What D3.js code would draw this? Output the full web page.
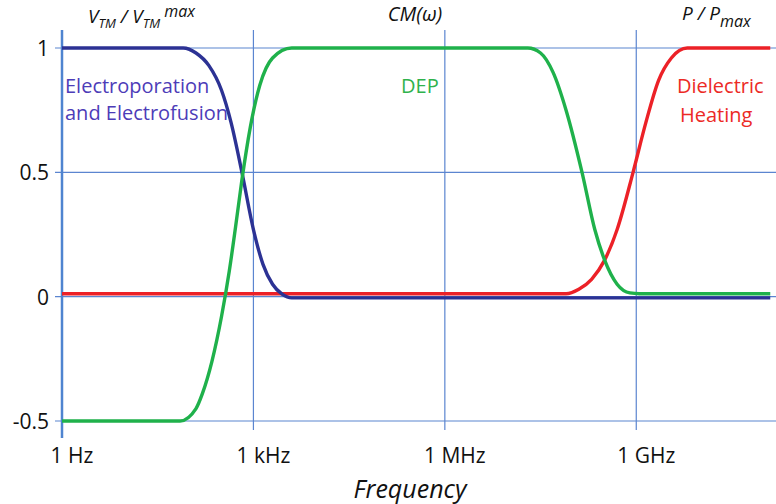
<!DOCTYPE html>
<html>
<head>
<meta charset="utf-8">
<script src="https://cdn.jsdelivr.net/npm/d3@7"></script>
<style>
  body { margin: 0; background: #fff; }
  text { font-family: "Open Sans", Lato, sans-serif; }
</style>
</head>
<body>
<div id="chart"></div>
<script>
"use strict";

// frequency in decades (log10 Hz)
var blueDec  = [0, 1.9, 2.1, 2.3, 2.5, 2.65, 2.82, 3.0, 3.15, 3.3, 3.45, 3.6, 11.1];
var blueVal  = [1, 1, 0.98, 0.93, 0.83, 0.7, 0.5, 0.27, 0.13, 0.05, 0.01, -0.005, -0.005];

var greenDec = [0, 1.85, 2.1, 2.2, 2.35, 2.5, 2.62, 2.72, 2.82, 2.95, 3.1, 3.3, 3.6, 7.3, 7.5, 7.7, 7.9, 8.15, 8.35, 8.5, 8.7, 8.9, 9.05, 11.1];
var greenVal = [-0.5, -0.5, -0.45, -0.39, -0.26, -0.08, 0.1, 0.28, 0.47, 0.68, 0.85, 0.96, 1, 1, 0.98, 0.9, 0.75, 0.5, 0.27, 0.15, 0.05, 0.015, 0.012, 0.012];

var redDec   = [0, 7.9, 8.1, 8.3, 8.5, 8.7, 8.95, 9.15, 9.35, 9.55, 9.8, 11.1];
var redVal   = [0.012, 0.012, 0.03, 0.07, 0.145, 0.27, 0.5, 0.7, 0.87, 0.96, 1, 1];

var yTicks = [1, 0.5, 0, -0.5];
var xTicks = [0, 3, 6, 9];
var xTickLabels = ["1 Hz", "1 kHz", "1 MHz", "1 GHz"];

var W = 776, H = 504;
var svg = d3.select("#chart").append("svg")
        .attr("width", W)
        .attr("height", H);

var x = d3.scaleLog().domain([1, Math.pow(10, 11.19)]).range([62, 776]);
var y = d3.scaleLinear().domain([-0.5, 1]).range([421, 48]);

var gridColor = "#5b85d0";

// horizontal grid lines
svg.selectAll(".hgrid").data(yTicks).enter().append("line")
        .attr("x1", 55).attr("x2", W)
        .attr("y1", function (d) { return y(d); })
        .attr("y2", function (d) { return y(d); })
        .attr("stroke", gridColor).attr("stroke-width", 1.2);

// vertical grid lines
svg.selectAll(".vgrid").data(xTicks.slice(1)).enter().append("line")
        .attr("x1", function (d) { return x(Math.pow(10, d)); })
        .attr("x2", function (d) { return x(Math.pow(10, d)); })
        .attr("y1", 30).attr("y2", 430)
        .attr("stroke", gridColor).attr("stroke-width", 1.2);

// left axis
svg.append("line")
        .attr("x1", 62).attr("x2", 62).attr("y1", 30).attr("y2", 438)
        .attr("stroke", "#4f84d0").attr("stroke-width", 2.5);

// tick labels
svg.selectAll(".ylab").data(yTicks).enter().append("text")
        .attr("x", 49)
        .attr("y", function (d) { return y(d) + 8; })
        .attr("text-anchor", "end")
        .style("font-size", "21px")
        .style("fill", "#111")
        .text(function (d) { return d; });

svg.selectAll(".xlab").data(xTicks).enter().append("text")
        .attr("x", function (d) { return x(Math.pow(10, d)) + 10; })
        .attr("y", 463)
        .attr("text-anchor", "middle")
        .style("font-size", "21px")
        .style("fill", "#111")
        .text(function (d, i) { return xTickLabels[i]; });

svg.append("text")
        .attr("x", 410).attr("y", 498)
        .attr("text-anchor", "middle")
        .style("font-size", "25px")
        .style("font-style", "italic")
        .style("fill", "#111")
        .text("Frequency");

// curves
var line = d3.line()
        .x(function (d) { return x(Math.pow(10, d[0])); })
        .y(function (d) { return y(d[1]); })
        .curve(d3.curveMonotoneX);

function pairs(a, b) { return a.map(function (v, i) { return [v, b[i]]; }); }

var series = [
    {dec: redDec, val: redVal, color: "#ec2127"},
    {dec: blueDec, val: blueVal, color: "#2c3294"},
    {dec: greenDec, val: greenVal, color: "#1fb14b"}
];
series.forEach(function (s) {
    svg.append("path")
            .datum(pairs(s.dec, s.val))
            .attr("d", line)
            .attr("fill", "none")
            .attr("stroke", s.color)
            .attr("stroke-width", 3.4)
            .attr("stroke-linecap", "butt");
});

// series labels
function label(txt, xx, yy, color) {
    svg.append("text")
            .attr("x", xx).attr("y", yy)
            .style("font-size", "20px")
            .style("fill", color)
            .text(txt);
}
label("Electroporation", 65, 93, "#4d3cb8");
label("and Electrofusion", 65, 120, "#4d3cb8");
label("DEP", 401, 93, "#2fb24c");
label("Dielectric", 677, 93, "#ec2a25");
label("Heating", 680, 122, "#ec2a25");

// top titles
var t1 = svg.append("text").attr("x", 88).attr("y", 23)
        .style("font-size", "19px").style("font-style", "italic").style("fill", "#111");
t1.append("tspan").text("V");
t1.append("tspan").attr("dy", 5).style("font-size", "13px").text("TM");
t1.append("tspan").attr("dy", -5).text(" / V");
t1.append("tspan").attr("dy", 5).style("font-size", "13px").text("TM");
t1.append("tspan").attr("dy", -11).style("font-size", "16px").text(" max");

svg.append("text").attr("x", 415).attr("y", 21)
        .attr("text-anchor", "middle")
        .style("font-size", "20px").style("font-style", "italic").style("fill", "#111")
        .text("CM(\u03c9)");

var t3 = svg.append("text").attr("x", 682).attr("y", 20)
        .style("font-size", "19px").style("font-style", "italic").style("fill", "#111");
t3.append("tspan").text("P / P");
t3.append("tspan").attr("dy", 7).style("font-size", "16px").text("max");
</script>
</body>
</html>
